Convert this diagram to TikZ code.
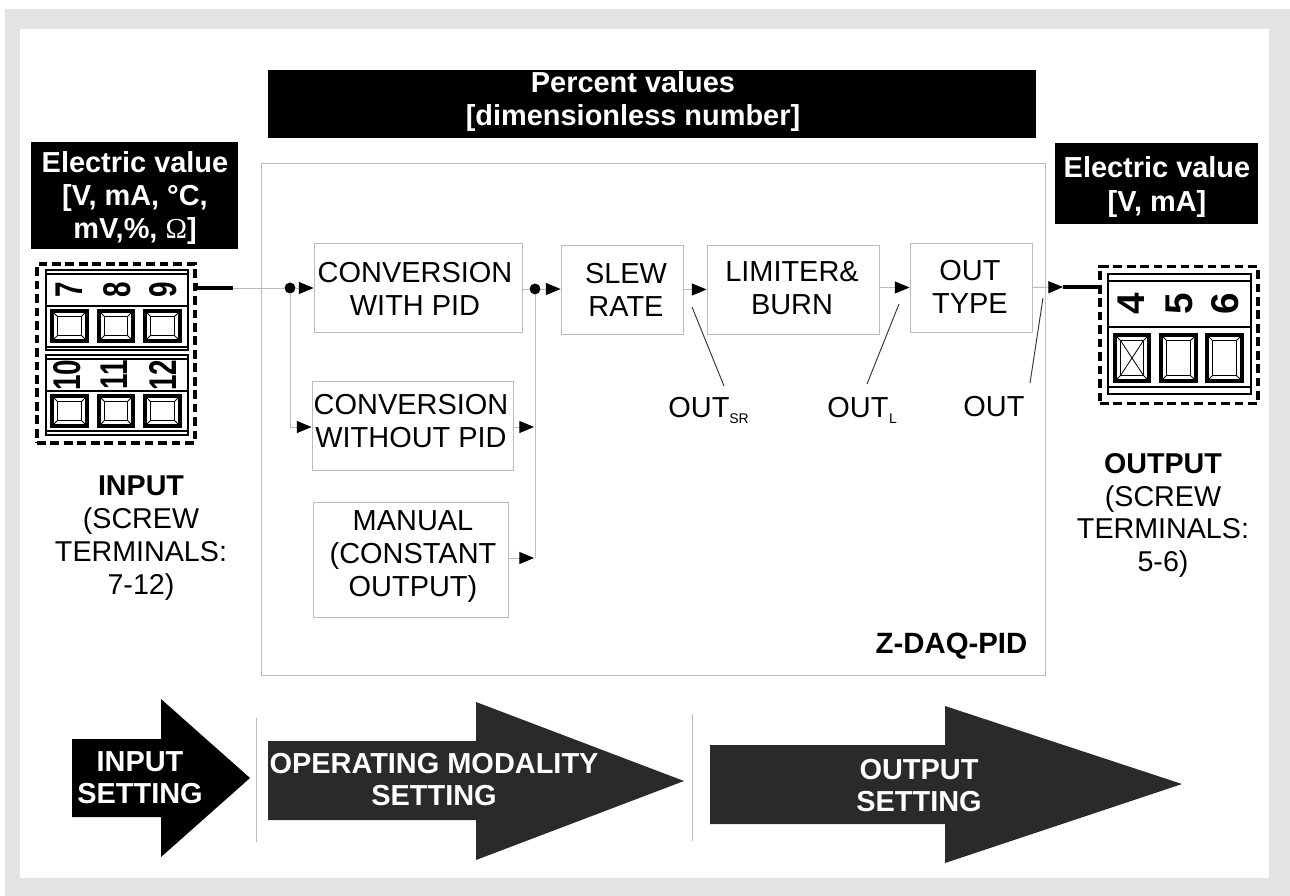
\documentclass[tikz,border=0pt]{standalone}
\usepackage{fontspec}
\setmainfont{Liberation Sans}
\newfontfamily\omegafont{Liberation Serif}
\usetikzlibrary{arrows.meta}
\definecolor{panelgray}{HTML}{E3E3E3}
\definecolor{linegray}{HTML}{BBBBBB}
\definecolor{darkarrow}{HTML}{2B2A29}
\newcommand{\fs}[2]{\fontsize{#1}{#2}\selectfont}
% screw: left, top, right, bottom in px
\newcommand{\screwbox}[4]{%
  \draw[black,line width=2.4pt] (#1+1,#2+1) rectangle (#3-1,#4-1);
  \draw[black,line width=1pt] (#1+6.5,#2+6.5) rectangle (#3-6.5,#4-6.5);
  \draw[black,line width=.6pt] (#1+1,#2+1) -- (#1+6.5,#2+6.5) (#3-1,#2+1) -- (#3-6.5,#2+6.5)
    (#1+1,#4-1) -- (#1+6.5,#4-6.5) (#3-1,#4-1) -- (#3-6.5,#4-6.5);
}
\tikzset{
  block/.style={draw=linegray,line width=.7pt,fill=white,inner sep=0pt},
  boxtext/.style={inner sep=0pt,align=center,font=\fs{21.7}{24.7}},
  banner/.style={fill=black,inner sep=0pt},
  bannertext/.style={inner sep=0pt,align=center,text=white,font=\fs{21.7}{25}\bfseries},
  sidetext/.style={inner sep=0pt,align=center,font=\fs{21.5}{24.6}},
  arrowtext/.style={inner sep=0pt,align=center,text=white,font=\fs{21.7}{24.4}\bfseries},
  term/.style={inner sep=0pt,rotate=90,font=\fs{29}{29}\bfseries},
  wire/.style={draw=linegray,line width=.7pt},
  flow/.style={wire,-{Triangle[length=11pt,width=9pt,color=black,fill=black]}},
  dot/.style={circle,fill=black,inner sep=0pt,minimum size=8.2pt},
  thickwire/.style={draw=black,line width=3.4pt},
  leader/.style={draw=black!80,line width=.7pt},
  dashbox/.style={draw=black,line width=2.8pt,dash pattern=on 6.5pt off 3.6pt},
  frame/.style={draw=black,line width=1.8pt},
  thinline/.style={draw=black,line width=1.1pt},
  sep/.style={draw=linegray,line width=.7pt},
}
\begin{document}
\begin{tikzpicture}[x=.75pt,y=-.75pt]
\useasboundingbox (0,0) rectangle (1290,896);
\fill[white] (0,0) rectangle (1290,896);
\fill[panelgray] (5,9) rectangle (1290,896);
\fill[white] (20,29) rectangle (1269,878);

% banners
\node[banner,minimum width=576pt,minimum height=51pt] (topbar) at (651.5,104) {};
\node[bannertext] (toptext) at (633,101.5) {Percent values\\{}[dimensionless number]};
\node[banner,minimum width=155.25pt,minimum height=80.25pt] (leftbar) at (134.5,195.5) {};
\node[bannertext] (lefttext) at (135,198) {Electric value\\{}[V, mA, °C,\\mV,\%, {\omegafont\mdseries Ω}]};
\node[banner,minimum width=152.25pt,minimum height=60.75pt] (rightbar) at (1156.5,183.5) {};
\node[bannertext] (righttext) at (1157,187) {Electric value\\{}[V, mA]};

% main frame
\node[block,minimum width=588pt,minimum height=384pt] (main) at (653,419) {};
\node[inner sep=0pt,font=\fs{22}{24}\bfseries] (ztext) at (951.5,646) {Z-DAQ-PID};

% blocks
\node[block,minimum width=156pt,minimum height=66.75pt] (pid) at (418,287.5) {};
\node[boxtext] (pidtext) at (415,289) {CONVERSION\\WITH PID};
\node[block,minimum width=150.75pt,minimum height=66.75pt] (nopid) at (412.5,425.5) {};
\node[boxtext] (nopidtext) at (411,421.5) {CONVERSION\\WITHOUT PID};
\node[block,minimum width=146.25pt,minimum height=86.25pt] (manual) at (410.5,559.5) {};
\node[boxtext] (manualtext) at (413,556.5) {MANUAL\\(CONSTANT\\OUTPUT)};
\node[block,minimum width=91.5pt,minimum height=66.75pt] (slew) at (622,289.5) {};
\node[boxtext] (slewtext) at (626,289.5) {SLEW\\RATE};
\node[block,minimum width=129pt,minimum height=66.75pt] (limiter) at (793,289.5) {};
\node[boxtext] (limitertext) at (792,288.5) {LIMITER\&\\BURN};
\node[block,minimum width=91.5pt,minimum height=66.75pt] (outtype) at (971,287.5) {};
\node[boxtext] (outtypetext) at (970,286.5) {OUT\\TYPE};

% out labels
\node[boxtext] (outsr) at (699,408) {OUT};
\node[inner sep=0pt,font=\fs{10.5}{12}] (outsrsub) at (739,418.5) {SR};
\node[boxtext] (outl) at (858,408) {OUT};
\node[inner sep=0pt,font=\fs{10.5}{12}] (outlsub) at (893,419) {L};
\node[boxtext] (outp) at (994,407) {OUT};

% input terminal
\node[dashbox,inner sep=0pt,minimum width=118.5pt,minimum height=134.25pt] (interm) at (116,353.5) {};
\node[frame,inner sep=0pt,minimum width=106.5pt,minimum height=60pt] (inup) at (117,310) {};
\node[frame,inner sep=0pt,minimum width=106.5pt,minimum height=60pt] (indown) at (117,395) {};
\draw[thinline] (46,274) -- (188,274) (46,306) -- (188,306) (46,347) -- (188,347);
\draw[thinline] (46,359) -- (188,359) (46,391) -- (188,391) (46,431) -- (188,431);
\screwbox{51}{310}{88}{342}
\screwbox{98}{310}{134}{342}
\screwbox{144}{310}{181}{342}
\screwbox{51}{395}{88}{427}
\screwbox{98}{395}{134}{427}
\screwbox{144}{395}{181}{427}
\node[term] (t7) at (69,290) {\scalebox{.72}[1]{7}};
\node[term] (t8) at (117,290) {\scalebox{.72}[1]{8}};
\node[term] (t9) at (163,290) {\scalebox{.72}[1]{9}};
\node[term] (t10) at (67,375) {\scalebox{.72}[1]{10}};
\node[term] (t11) at (114,375) {\scalebox{.72}[1]{11}};
\node[term] (t12) at (163,375) {\scalebox{.72}[1]{12}};

% output terminal
\node[dashbox,inner sep=0pt,minimum width=118.5pt,minimum height=102.75pt] (outterm) at (1179,335) {};
\node[frame,inner sep=0pt,minimum width=107.25pt,minimum height=90pt] (outframe) at (1179.5,334) {};
\draw[thinline] (1108,281) -- (1251,281) (1108,327) -- (1251,327) (1108,387) -- (1251,387);
\screwbox{1114}{334}{1150}{382}
\screwbox{1160}{334}{1197}{382}
\screwbox{1206}{334}{1243}{382}
\draw[black,line width=.6pt] (1120.5,340.5) -- (1143.5,375.5) (1143.5,340.5) -- (1120.5,375.5);
\node[term] (t4) at (1131,304) {4};
\node[term] (t5) at (1179,304) {5};
\node[term] (t6) at (1225,304) {6};

% side labels
\node[sidetext] (inlabel) at (141,538) {\textbf{INPUT}\\(SCREW\\TERMINALS:\\7-12)};
\node[sidetext] (outlabel) at (1163,515.5) {\textbf{OUTPUT}\\(SCREW\\TERMINALS:\\5-6)};

% junctions
\node[dot] (j1) at (290,288) {};
\node[dot] (j2) at (535,289) {};
\coordinate (inA) at (196,283);
\coordinate (inB) at (196,288);
\coordinate (inC) at (233,288);
\coordinate (j1down) at (290,427);
\coordinate (j2down) at (535,558);
\coordinate (busA) at (534,427);
\coordinate (busB) at (534,558);
\coordinate (outA) at (1063,287);
\coordinate (outB) at (1100,287);
\coordinate (outC) at (1100,293);

% connectors
\draw[wire] (inC) -- (j1);
\draw[thickwire,line join=round] (inA) -- (inB) -- (inC);
\draw[flow] (j1) -- (pid.west |- j1);
\draw[wire] (j1) -- (j1down);
\draw[flow] (j1down) -- (nopid.west |- j1down);
\draw[wire] (pid.east |- j2) -- (j2);
\draw[flow] (j2) -- (slew.west |- j2);
\draw[wire] (j2) -- (j2down);
\draw[flow] (nopid.east |- busA) -- (busA);
\draw[flow] (manual.east |- busB) -- (busB);
\draw[flow] (slew.east) -- (limiter.west);
\draw[flow] (limiter.east |- outtype.east) -- (outtype.west);
\draw[flow] (outtype.east) -- (outA);
\draw[thickwire,line join=round] (outA) -- (outB) -- (outC);

% leaders
\coordinate (lsrA) at (692,307); \coordinate (lsrB) at (724,386);
\coordinate (llA) at (899,304); \coordinate (llB) at (867,384);
\coordinate (loA) at (1043,298); \coordinate (loB) at (1030,383);
\draw[leader] (lsrA) -- (lsrB);
\draw[leader] (llA) -- (llB);
\draw[leader] (loA) -- (loB);

% bottom arrows
\fill[black] (72,739) -- (161,739) -- (161,699) -- (250,778) -- (161,857) -- (161,817) -- (72,817) -- cycle;
\fill[darkarrow] (268,741) -- (476,741) -- (476,702) -- (684,781) -- (476,860) -- (476,820) -- (268,820) -- cycle;
\fill[darkarrow] (710,745) -- (945,745) -- (945,706) -- (1182,784) -- (945,863) -- (945,824) -- (710,824) -- cycle;
\coordinate (s1a) at (256,718); \coordinate (s1b) at (256,842);
\coordinate (s2a) at (692,714); \coordinate (s2b) at (692,841);
\draw[sep] (s1a) -- (s1b);
\draw[sep] (s2a) -- (s2b);
\node[arrowtext] (a1text) at (140,777.5) {INPUT\\SETTING};
\node[arrowtext] (a2text) at (434,779.5) {OPERATING MODALITY\\SETTING};
\node[arrowtext] (a3text) at (919,785.5) {OUTPUT\\SETTING};
\end{tikzpicture}
\end{document}
